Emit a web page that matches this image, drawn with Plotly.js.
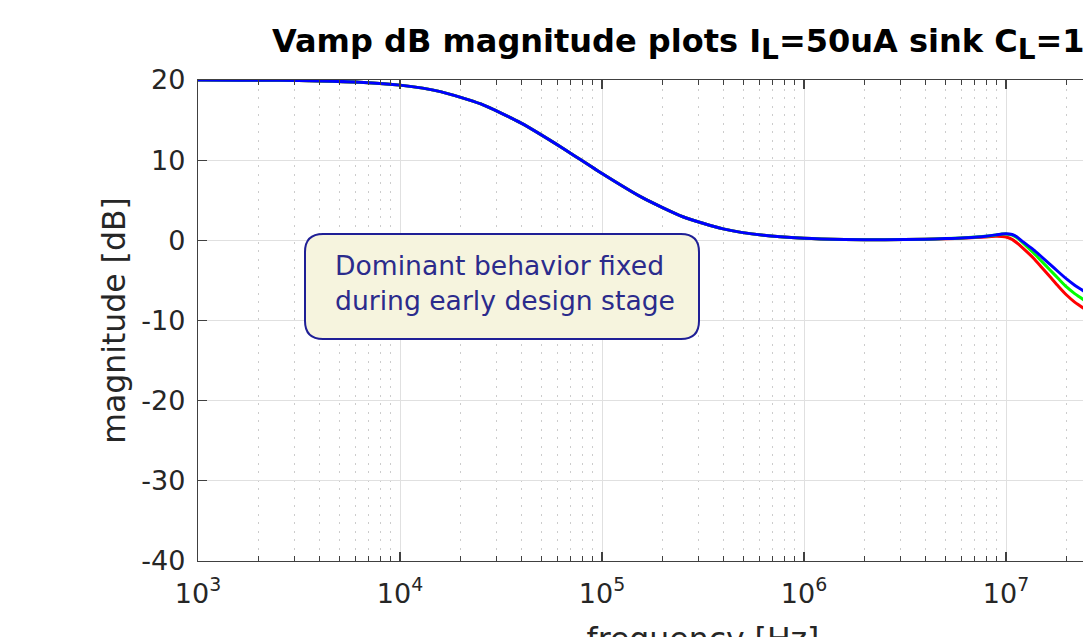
<!DOCTYPE html>
<html>
<head>
<meta charset="utf-8">
<script src="https://cdn.plot.ly/plotly-3.0.1.min.js"></script>
<style>
  html, body { margin: 0; padding: 0; overflow: hidden; background: #ffffff; }
  #chart { width: 1268px; height: 657px; }
</style>
</head>
<body>
<div id="chart"></div>
<script>
// ---- data ----
const freqHz = [1000, 1585, 2512, 3981, 6310, 10000, 15850, 25120, 39810, 63100,
  100000, 158500, 251200, 398100, 631000, 1000000, 1585000, 2512000, 3981000,
  5012000, 6310000, 7943000, 8913000, 9550000, 10000000, 10720000, 11300000,
  12160000, 13650000, 15000000, 16520000, 18200000, 20000000, 21880000,
  24000000, 28180000];
const magBlue = [19.99, 19.98, 19.96, 19.89, 19.73, 19.36, 18.55, 17.01, 14.62, 11.59,
  8.34, 5.32, 2.94, 1.43, 0.62, 0.26, 0.11, 0.07, 0.15,
  0.22, 0.33, 0.52, 0.68, 0.80, 0.83, 0.72, 0.45,
  -0.20, -1.15, -2.05, -3.00, -3.95, -4.85, -5.60,
  -6.25, -7.50];
const magGreen = [19.99, 19.98, 19.96, 19.89, 19.73, 19.36, 18.55, 17.01, 14.62, 11.59,
  8.34, 5.32, 2.94, 1.43, 0.62, 0.26, 0.11, 0.07, 0.15,
  0.22, 0.33, 0.51, 0.66, 0.78, 0.80, 0.66, 0.36,
  -0.35, -1.55, -2.60, -3.70, -4.80, -5.85, -6.65,
  -7.35, -8.60];
const magRed = [19.99, 19.98, 19.96, 19.89, 19.73, 19.36, 18.55, 17.01, 14.62, 11.59,
  8.34, 5.32, 2.94, 1.43, 0.62, 0.26, 0.11, 0.07, 0.14,
  0.20, 0.29, 0.43, 0.50, 0.48, 0.42, 0.12, -0.30,
  -1.00, -2.20, -3.35, -4.55, -5.75, -6.85, -7.70,
  -8.40, -9.70];
const xTickVals = [1e3, 1e4, 1e5, 1e6, 1e7, 1e8];
const xTickText = ['10<sup>3</sup>', '10<sup>4</sup>', '10<sup>5</sup>', '10<sup>6</sup>', '10<sup>7</sup>', '10<sup>8</sup>'];
const yTickVals = [-40, -30, -20, -10, 0, 10, 20];
const yTickText = ['-40', '-30', '-20', '-10', '0', '10', '20'];
const minorDigits = [2, 3, 4, 5, 6, 7, 8, 9];
const chartTitle = 'Vamp dB magnitude plots I<sub><span style="font-size:28px">L</span></sub>=50uA sink C<sub><span style="font-size:28px">L</span></sub>=1pF';
const xTitle = 'frequency [Hz]';
const yTitle = 'magnitude [dB]';
const noteText = 'Dominant behavior fixed<br>during early design stage';

// ---- build ----
const W = 1268, H = 657;
const FONT = 'DejaVu Sans';
const minorTickVals = [];
xTickVals.slice(0, -1).forEach(d => minorDigits.forEach(k => minorTickVals.push(d * k)));

function trace(y, color) {
  return { x: freqHz, y: y, type: 'scatter', mode: 'lines',
    line: { color: color, width: 3, shape: 'spline', smoothing: 0.6 },
    hoverinfo: 'skip', showlegend: false };
}
const data = [trace(magRed, '#ff0000'), trace(magGreen, '#00ff00'), trace(magBlue, '#0000ff')];

// rounded box (paper coords of plot area)
const plotW = 1010, plotH = 481;
const bx0 = (305 - 198) / plotW, bx1 = (699 - 198) / plotW;
const by0 = (561 - 339) / plotH, by1 = (561 - 234) / plotH;
const rx = 18 / plotW, ry = 18 / plotH;
const boxPath = `M ${bx0 + rx} ${by0} L ${bx1 - rx} ${by0} Q ${bx1} ${by0} ${bx1} ${by0 + ry} ` +
  `L ${bx1} ${by1 - ry} Q ${bx1} ${by1} ${bx1 - rx} ${by1} L ${bx0 + rx} ${by1} ` +
  `Q ${bx0} ${by1} ${bx0} ${by1 - ry} L ${bx0} ${by0 + ry} Q ${bx0} ${by0} ${bx0 + rx} ${by0} Z`;

const axisColor = '#404040';
const layout = {
  width: W, height: H,
  margin: { l: 198, r: 60, t: 80, b: 96, pad: 0 },
  paper_bgcolor: '#ffffff', plot_bgcolor: '#ffffff',
  font: { family: FONT, color: '#262626' },
  title: { text: chartTitle, font: { family: FONT, size: 32, color: '#000000', weight: 'bold' },
    xref: 'container', x: 272 / W, xanchor: 'left',
    yref: 'container', y: 1 - 41 / H, yanchor: 'middle' },
  xaxis: {
    type: 'log', range: [3, 8],
    tickmode: 'array', tickvals: xTickVals, ticktext: xTickText,
    ticks: 'inside', ticklen: 9, tickwidth: 1.2, tickcolor: axisColor,
    showline: true, linecolor: axisColor, linewidth: 1.2, mirror: 'ticks',
    showgrid: true, gridcolor: '#e0e0e0', gridwidth: 1, zeroline: false,
    tickfont: { family: FONT, size: 27, color: '#262626' },
    ticklabelstandoff: 8,
    minor: { tickmode: 'array', tickvals: minorTickVals, ticks: 'inside', ticklen: 5,
      tickcolor: axisColor, tickwidth: 1, showgrid: true, gridcolor: '#cccccc',
      griddash: '2px,6.5px', gridwidth: 1 },
    title: { text: xTitle, font: { family: FONT, size: 31.5, color: '#262626' }, standoff: 20 }
  },
  yaxis: {
    range: [-40, 20],
    tickmode: 'array', tickvals: yTickVals, ticktext: yTickText,
    ticks: 'inside', ticklen: 9, tickwidth: 1.2, tickcolor: axisColor,
    showline: true, linecolor: axisColor, linewidth: 1.2, mirror: 'ticks',
    showgrid: true, gridcolor: '#e0e0e0', gridwidth: 1, zeroline: false,
    tickfont: { family: FONT, size: 27, color: '#262626' },
    ticklabelstandoff: 6,
    title: { text: yTitle, font: { family: FONT, size: 31.5, color: '#262626' }, standoff: 6 }
  },
  shapes: [{ type: 'path', xref: 'paper', yref: 'paper', path: boxPath,
    fillcolor: '#f6f4de', line: { color: '#1f1f96', width: 2 }, layer: 'above' }],
  annotations: [{ xref: 'paper', yref: 'paper', x: (333 - 198) / plotW, y: (561 - 283) / plotH,
    xanchor: 'left', yanchor: 'middle', align: 'left', showarrow: false,
    text: noteText, font: { family: FONT, size: 26.6, color: '#2b2b8c' } }]
};

Plotly.newPlot('chart', data, layout, { staticPlot: true, displayModeBar: false });
</script>
</body>
</html>
